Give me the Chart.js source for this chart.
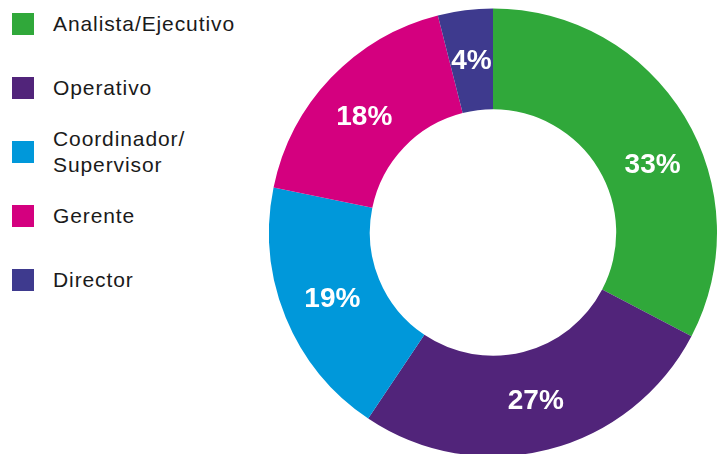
<!DOCTYPE html>
<html>
<head>
<meta charset="utf-8">
<script src="https://cdn.jsdelivr.net/npm/chart.js@4/dist/chart.umd.min.js"></script>
<style>
  html, body { margin: 0; padding: 0; background: #fff; overflow: hidden; }
  body { width: 722px; height: 454px; position: relative; font-family: "Liberation Sans", Arial, sans-serif; }
  #legend { position: absolute; left: 12px; top: -8px; margin: 0; padding: 0; list-style: none; }
  #legend li { height: 64px; display: flex; align-items: center; }
  #legend .sw { width: 22px; height: 22px; flex: none; margin-right: 19px; }
  #legend .tx { font-size: 21px; letter-spacing: 0.9px; line-height: 26px; color: #1a1a1a; }
  #wrap { position: absolute; left: 269px; top: 8px; width: 448px; height: 449px; }
</style>
</head>
<body>
<ul id="legend"></ul>
<div id="wrap"><canvas id="c"></canvas></div>
<script>
// categories (legend text, one entry per line) and shares in %
const categories = [["Analista/Ejecutivo"], ["Operativo"], ["Coordinador/", "Supervisor"], ["Gerente"], ["Director"]];
const shares = [33, 27, 19, 18, 4];
const colors = ["#30a83a", "#51247a", "#0098da", "#d4007f", "#3e3a8e"];

// --- html legend ---
const legend = document.getElementById("legend");
categories.forEach((lines, i) => {
  const li = document.createElement("li");
  const sw = document.createElement("span");
  sw.className = "sw";
  sw.style.background = colors[i];
  const tx = document.createElement("span");
  tx.className = "tx";
  tx.innerHTML = lines.join("<br>");
  li.appendChild(sw);
  li.appendChild(tx);
  legend.appendChild(li);
});

// --- percentage labels inside the ring ---
const sliceLabels = {
  id: "sliceLabels",
  afterDatasetsDraw(chart, args, opts) {
    const ctx = chart.ctx;
    const meta = chart.getDatasetMeta(0);
    ctx.save();
    ctx.fillStyle = "#fff";
    ctx.font = "bold 28px 'Liberation Sans', Arial, sans-serif";
    ctx.textAlign = "center";
    ctx.textBaseline = "middle";
    meta.data.forEach((arc, i) => {
      const p = arc.getProps(["x", "y", "startAngle", "endAngle", "innerRadius", "outerRadius"], true);
      const a = (p.startAngle + p.endAngle) / 2 + (opts.nudge[i] || 0) * Math.PI / 180;
      const r = (p.innerRadius + p.outerRadius) / 2;
      ctx.fillText(shares[i] + "%", p.x + r * Math.cos(a), p.y + r * Math.sin(a) + 1);
    });
    ctx.restore();
  },
};

new Chart(document.getElementById("c"), {
  type: "doughnut",
  data: {
    labels: categories.map((l) => l.join(" ")),
    datasets: [{ data: shares, backgroundColor: colors, borderWidth: 0 }],
  },
  options: {
    responsive: true,
    maintainAspectRatio: false,
    animation: false,
    cutout: "55%",
    layout: { padding: 0 },
    plugins: {
      legend: { display: false },
      tooltip: { enabled: false },
      sliceLabels: { nudge: [8, 0, 0, -1.5, 0] },
    },
  },
  plugins: [sliceLabels],
});
</script>
</body>
</html>
